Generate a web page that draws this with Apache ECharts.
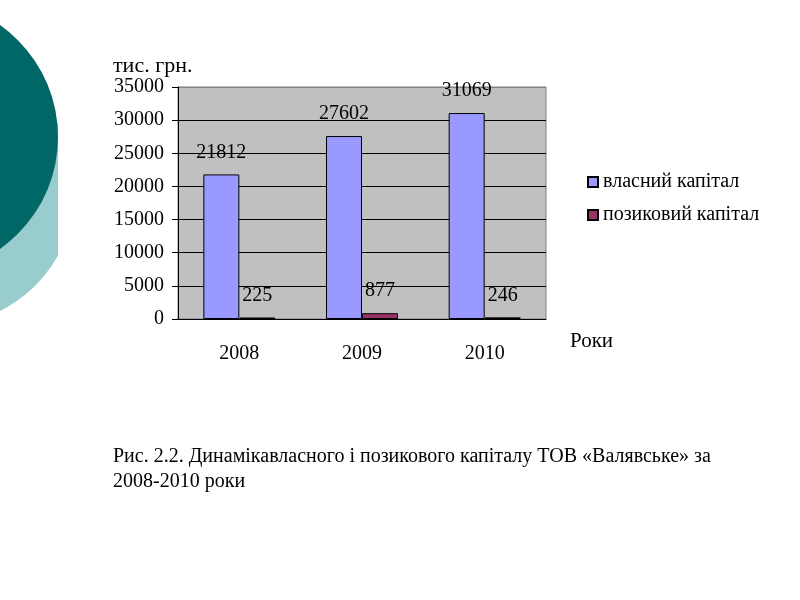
<!DOCTYPE html>
<html>
<head>
<meta charset="utf-8">
<script src="https://cdn.jsdelivr.net/npm/echarts@6/dist/echarts.min.js"></script>
<style>
  html, body { margin: 0; padding: 0; background: #fff; }
  #chart { width: 800px; height: 600px; }
</style>
</head>
<body>
<div id="chart"></div>
<script>
  const years = ['2008', '2009', '2010'];
  const ownCapital = [21812, 27602, 31069];
  const loanCapital = [225, 877, 246];
  const seriesNames = ['власний капітал', 'позиковий капітал'];

  const serif = '"Liberation Serif", "DejaVu Serif", serif';
  const myChart = echarts.init(document.getElementById('chart'));

  myChart.setOption({
    backgroundColor: '#fff',
    animation: false,
    graphic: [
      // decorative circles on the left
      { type: 'circle', shape: { cx: -60, cy: 190, r: 135 }, style: { fill: '#99cccc' }, z: 0 },
      { type: 'rect', shape: { x: 58, y: 40, width: 30, height: 300 }, style: { fill: '#fff' }, z: 0 },
      { type: 'circle', shape: { cx: -79, cy: 137, r: 137 }, style: { fill: '#006666' }, z: 1 },
      { type: 'text', left: 113, top: 55, style: { text: 'тис. грн.', font: '22px ' + serif, fill: '#000' } },
      { type: 'text', left: 570, top: 331, style: { text: 'Роки', font: '21px ' + serif, fill: '#000' } },
      {
        type: 'text', left: 113, top: 444,
        style: {
          text: 'Рис. 2.2. Динамікавласного і позикового капіталу ТОВ «Валявське» за\n2008-2010 роки',
          font: '20px ' + serif, fill: '#000', lineHeight: 25
        }
      }
    ],
    legend: {
      orient: 'vertical',
      left: 582,
      top: 167,
      itemWidth: 10,
      itemHeight: 10,
      itemGap: 13,
      icon: 'rect',
      textStyle: { fontFamily: serif, fontSize: 20, color: '#000' },
      data: seriesNames
    },
    grid: {
      left: 178, top: 87, width: 368, height: 232,
      show: true, backgroundColor: '#c0c0c0', borderColor: '#808080', borderWidth: 1
    },
    xAxis: {
      type: 'category',
      data: years,
      axisLine: { lineStyle: { color: '#000' } },
      axisTick: { length: 6, lineStyle: { color: '#000' } },
      axisLabel: { margin: 25, fontFamily: serif, fontSize: 20, color: '#000' }
    },
    yAxis: {
      type: 'value',
      min: 0, max: 35000, interval: 5000,
      axisLine: { show: true, lineStyle: { color: '#000' } },
      axisTick: { show: true, length: 6, lineStyle: { color: '#000' } },
      axisLabel: { margin: 14, fontFamily: serif, fontSize: 20, color: '#000', formatter: v => String(v) },
      splitLine: { lineStyle: { color: ['#000', '#000', '#000', '#000', '#000', '#000', '#000', '#808080'] } }
    },
    series: [
      {
        name: seriesNames[0], type: 'bar', data: ownCapital,
        barWidth: 36, barGap: '0%',
        itemStyle: { color: '#9999ff', borderColor: '#000', borderWidth: 1 },
        label: { show: true, position: 'top', distance: 12, fontFamily: serif, fontSize: 20, color: '#000' }
      },
      {
        name: seriesNames[1], type: 'bar', data: loanCapital,
        barWidth: 36, barGap: '0%',
        itemStyle: { color: '#993366', borderColor: '#000', borderWidth: 1 },
        label: { show: true, position: 'top', distance: 12, fontFamily: serif, fontSize: 20, color: '#000' }
      }
    ]
  });
</script>
</body>
</html>
